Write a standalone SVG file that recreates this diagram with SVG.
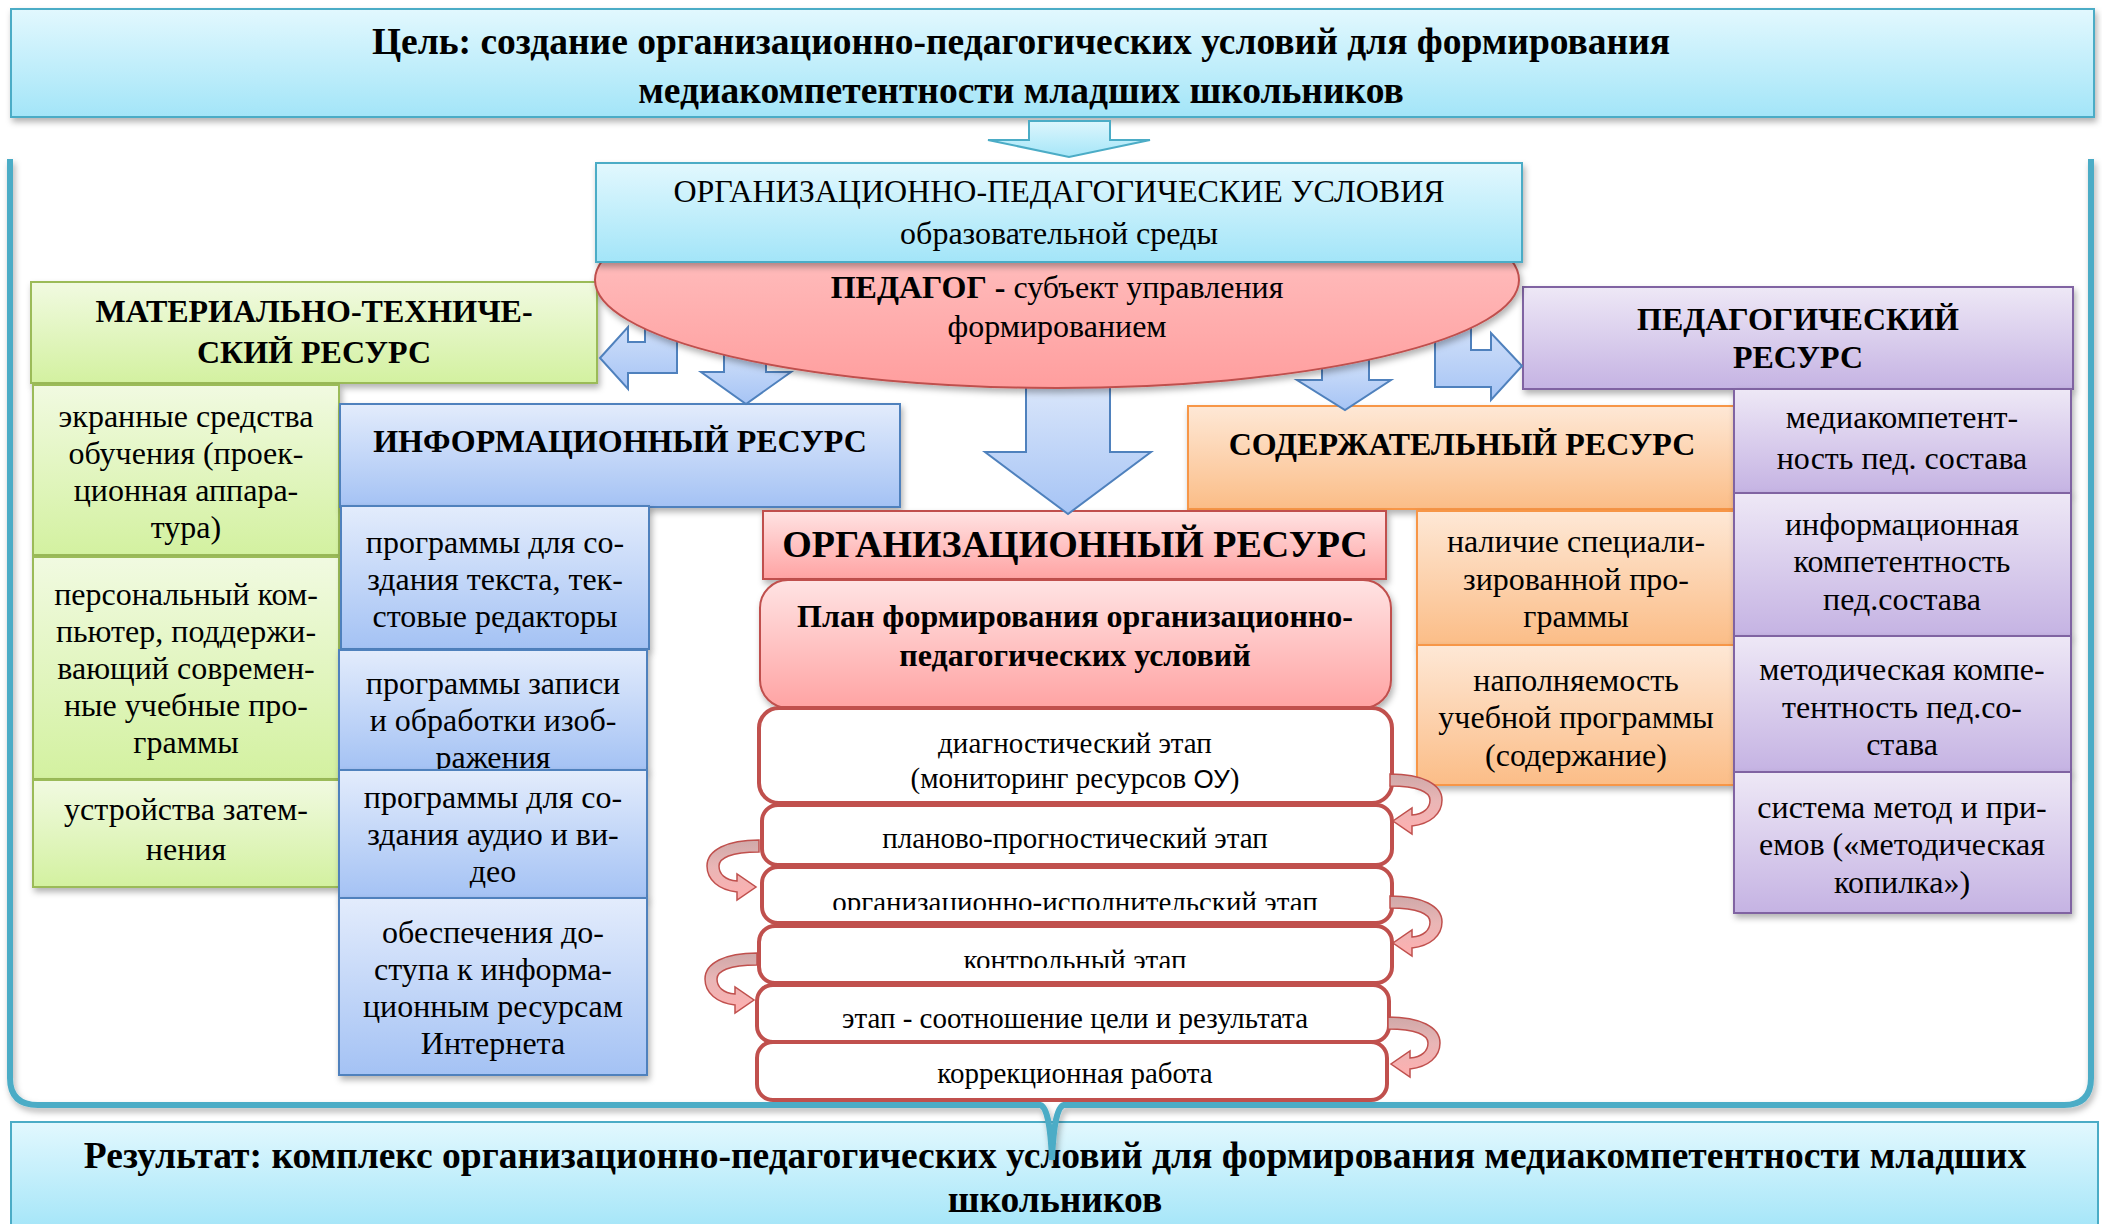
<svg xmlns="http://www.w3.org/2000/svg" width="2102" height="1224" viewBox="0 0 2102 1224">
<defs>
<linearGradient id="gCyan" x1="0" y1="0" x2="0" y2="1"><stop offset="0" stop-color="#E2F8FE"/><stop offset="1" stop-color="#A3E5F8"/></linearGradient>
<linearGradient id="gGreen" x1="0" y1="0" x2="0" y2="1"><stop offset="0" stop-color="#F1FAE1"/><stop offset="1" stop-color="#D3F1A0"/></linearGradient>
<linearGradient id="gBlue" x1="0" y1="0" x2="0" y2="1"><stop offset="0" stop-color="#E3ECFC"/><stop offset="1" stop-color="#A4C2F4"/></linearGradient>
<linearGradient id="gOrange" x1="0" y1="0" x2="0" y2="1"><stop offset="0" stop-color="#FEE8D6"/><stop offset="1" stop-color="#FBBD87"/></linearGradient>
<linearGradient id="gPurple" x1="0" y1="0" x2="0" y2="1"><stop offset="0" stop-color="#EEE8F6"/><stop offset="1" stop-color="#C5B3E3"/></linearGradient>
<linearGradient id="gRed" x1="0" y1="0" x2="0" y2="1"><stop offset="0" stop-color="#FFE3E3"/><stop offset="1" stop-color="#FFA3A3"/></linearGradient>
<linearGradient id="gPink" x1="0" y1="0" x2="0" y2="1"><stop offset="0" stop-color="#FFCFCF"/><stop offset="1" stop-color="#FF9E9E"/></linearGradient>
<linearGradient id="gArr" x1="0" y1="0" x2="0" y2="1"><stop offset="0" stop-color="#E0EAFB"/><stop offset="1" stop-color="#A6C4F5"/></linearGradient>
<linearGradient id="gArrC" x1="0" y1="0" x2="0" y2="1"><stop offset="0" stop-color="#DDF6FD"/><stop offset="1" stop-color="#A5E6F8"/></linearGradient>
<linearGradient id="gCurve" x1="0" y1="0" x2="0" y2="1"><stop offset="0" stop-color="#CFA8A8"/><stop offset="0.45" stop-color="#E9B6B6"/><stop offset="1" stop-color="#FFAFAF"/></linearGradient>
<filter id="sh" x="-5%" y="-10%" width="115%" height="135%"><feDropShadow dx="2" dy="4" stdDeviation="3" flood-color="#000" flood-opacity="0.3"/></filter>
<clipPath id="c3"><rect x="760" y="860" width="640" height="50"/></clipPath>
<clipPath id="c4"><rect x="760" y="925" width="640" height="43"/></clipPath>
<path id="cv" d="M 0 0 C 32 0 52 10 52 26 C 52 40 40 50 22 52 L 22 60 L 3 47 L 22 34 L 22 41 C 34 40 40 34 40 26 C 40 18 28 12 0 12 Z"/>
</defs>
<style>
.t{font-family:"Liberation Serif","Times New Roman",serif;fill:#000;text-anchor:middle}
.b{font-weight:bold}
.f38{font-size:38px}.f375{font-size:37.5px}.f32{font-size:32px}.f30{font-size:30px}.f29{font-size:29px}
.cy{fill:url(#gCyan);stroke:#4BACC6;stroke-width:2}
.gr{fill:url(#gGreen);stroke:#9BBB59;stroke-width:2}
.bl{fill:url(#gBlue);stroke:#4F81BD;stroke-width:2}
.or{fill:url(#gOrange);stroke:#F79646;stroke-width:2}
.pu{fill:url(#gPurple);stroke:#8064A2;stroke-width:2}
.rd{fill:url(#gRed);stroke:#C0504D;stroke-width:2}
.st{fill:#fff;stroke:#C0504D;stroke-width:4}
.ar{fill:url(#gArr);stroke:#4F81BD;stroke-width:2}
.cva{fill:url(#gCurve);stroke:#C0504D;stroke-width:1.5}
.sans{font-family:"Liberation Sans",Arial,sans-serif}
</style>
<rect width="2102" height="1224" fill="#fff"/>

<g id="goal">
<rect class="cy" x="11" y="9" width="2083" height="108" filter="url(#sh)"/>
<text class="t b f375" x="1021" y="54">Цель: создание организационно-педагогических условий для формирования</text>
<text class="t b f375" x="1021" y="103">медиакомпетентности младших школьников</text>
</g>

<g id="result">
<rect class="cy" x="11" y="1122" width="2087" height="110"/>
<text class="t b f375" x="1055" y="1168">Результат: комплекс организационно-педагогических условий для формирования медиакомпетентности младших</text>
<text class="t b f375" x="1055" y="1212">школьников</text>
</g>

<g id="frame">
<path d="M 8 159 L 2094 159" stroke="#4BACC6" stroke-width="8" fill="none" filter="url(#sh)"/>
<path d="M 10 159 L 10 1078 Q 10 1105 38 1105 L 1040 1105 Q 1050 1107 1052 1160 Q 1054 1107 1064 1105 L 2064 1105 Q 2091 1105 2091 1078 L 2091 159" stroke="#4BACC6" stroke-width="6" fill="none" filter="url(#sh)"/>
</g>

<g id="material">
<rect class="gr" x="31" y="282" width="566" height="101" filter="url(#sh)"/>
<text class="t b f32" x="314" y="322">МАТЕРИАЛЬНО-ТЕХНИЧЕ-</text>
<text class="t b f32" x="314" y="363">СКИЙ РЕСУРС</text>
<rect class="gr" x="33" y="385" width="306" height="170" filter="url(#sh)"/>
<text class="t f32" x="186" y="427">экранные средства<tspan x="186" dy="37">обучения (проек-</tspan><tspan x="186" dy="37">ционная аппара-</tspan><tspan x="186" dy="37">тура)</tspan></text>
<rect class="gr" x="33" y="557" width="306" height="222" filter="url(#sh)"/>
<text class="t f32" x="186" y="605">персональный ком-<tspan x="186" dy="37">пьютер, поддержи-</tspan><tspan x="186" dy="37">вающий современ-</tspan><tspan x="186" dy="37">ные учебные про-</tspan><tspan x="186" dy="37">граммы</tspan></text>
<rect class="gr" x="33" y="780" width="306" height="107" filter="url(#sh)"/>
<text class="t f32" x="186" y="820">устройства затем-<tspan x="186" dy="40">нения</tspan></text>
</g>

<g id="info">
<rect class="bl" x="340" y="404" width="560" height="103" filter="url(#sh)"/>
<text class="t b f32" x="620" y="452">ИНФОРМАЦИОННЫЙ РЕСУРС</text>
<rect class="bl" x="341" y="506" width="308" height="143" filter="url(#sh)"/>
<text class="t f32" x="495" y="553">программы для со-<tspan x="495" dy="37">здания текста, тек-</tspan><tspan x="495" dy="37">стовые редакторы</tspan></text>
<rect class="bl" x="339" y="650" width="308" height="120" filter="url(#sh)"/>
<text class="t f32" x="493" y="694">программы записи<tspan x="493" dy="37">и обработки изоб-</tspan><tspan x="493" dy="37">ражения</tspan></text>
<rect class="bl" x="339" y="770" width="308" height="128" filter="url(#sh)"/>
<text class="t f32" x="493" y="808">программы для со-<tspan x="493" dy="37">здания аудио и ви-</tspan><tspan x="493" dy="37">део</tspan></text>
<rect class="bl" x="339" y="898" width="308" height="177" filter="url(#sh)"/>
<text class="t f32" x="493" y="943">обеспечения до-<tspan x="493" dy="37">ступа к информа-</tspan><tspan x="493" dy="37">ционным ресурсам</tspan><tspan x="493" dy="37">Интернета</tspan></text>
</g>

<g id="content">
<rect class="or" x="1188" y="406" width="546" height="103" filter="url(#sh)"/>
<text class="t b f32" x="1462" y="455">СОДЕРЖАТЕЛЬНЫЙ РЕСУРС</text>
<rect class="or" x="1417" y="511" width="317" height="134" filter="url(#sh)"/>
<text class="t f32" x="1576" y="552">наличие специали-<tspan x="1576" dy="38">зированной про-</tspan><tspan x="1576" dy="37">граммы</tspan></text>
<rect class="or" x="1417" y="645" width="317" height="140" filter="url(#sh)"/>
<text class="t f32" x="1576" y="691">наполняемость<tspan x="1576" dy="37">учебной программы</tspan><tspan x="1576" dy="38">(содержание)</tspan></text>
</g>

<g id="pedresource">
<rect class="pu" x="1523" y="287" width="550" height="102" filter="url(#sh)"/>
<text class="t b f32" x="1798" y="330">ПЕДАГОГИЧЕСКИЙ</text>
<text class="t b f32" x="1798" y="368">РЕСУРС</text>
<rect class="pu" x="1734" y="389" width="337" height="104" filter="url(#sh)"/>
<text class="t f32" x="1902" y="428">медиакомпетент-<tspan x="1902" dy="41">ность пед. состава</tspan></text>
<rect class="pu" x="1734" y="493" width="337" height="143" filter="url(#sh)"/>
<text class="t f32" x="1902" y="535">информационная<tspan x="1902" dy="37">компетентность</tspan><tspan x="1902" dy="38">пед.состава</tspan></text>
<rect class="pu" x="1734" y="636" width="337" height="136" filter="url(#sh)"/>
<text class="t f32" x="1902" y="680">методическая компе-<tspan x="1902" dy="38">тентность пед.со-</tspan><tspan x="1902" dy="37">става</tspan></text>
<rect class="pu" x="1734" y="772" width="337" height="141" filter="url(#sh)"/>
<text class="t f32" x="1902" y="818">система метод и при-<tspan x="1902" dy="37">емов («методическая</tspan><tspan x="1902" dy="38">копилка»)</tspan></text>
</g>

<g id="organization">
<rect class="rd" x="763" y="511" width="623" height="68" filter="url(#sh)"/>
<text class="t b f38" x="1075" y="557">ОРГАНИЗАЦИОННЫЙ РЕСУРС</text>
<rect class="rd" x="760" y="580" width="631" height="128" rx="28" filter="url(#sh)"/>
<text class="t b f32" x="1075" y="627">План формирования организационно-</text>
<text class="t b f32" x="1075" y="666">педагогических условий</text>
</g>

<g id="stage1">
<rect class="st" x="759" y="708" width="633" height="95" rx="20"/>
<text class="t f29" x="1075" y="753">диагностический этап</text>
<text class="t f29" x="1075" y="788">(мониторинг ресурсов <tspan class="sans" font-size="26">ОУ</tspan>)</text>
</g>
<g id="stage2">
<rect class="st" x="762" y="805" width="630" height="60" rx="16"/>
<text class="t f29" x="1075" y="848">планово-прогностический этап</text>
</g>
<g id="stage3">
<rect class="st" x="762" y="867" width="630" height="56" rx="16"/>
<text class="t f29" x="1075" y="912" clip-path="url(#c3)">организационно-исполнительский этап</text>
</g>
<g id="stage4">
<rect class="st" x="759" y="926" width="633" height="57" rx="16"/>
<text class="t f29" x="1075" y="970" clip-path="url(#c4)">контрольный этап</text>
</g>
<g id="stage5">
<rect class="st" x="757" y="985" width="632" height="57" rx="16"/>
<text class="t f29" x="1075" y="1028">этап - соотношение цели и результата</text>
</g>
<g id="stage6">
<rect class="st" x="757" y="1042" width="630" height="58" rx="16"/>
<text class="t f29" x="1075" y="1083">коррекционная работа</text>
</g>

<g id="connectors">
<path d="M 1029 121 L 1110 121 L 1110 140 L 1150 140 L 1069 157 L 988 140 L 1029 140 Z" fill="url(#gArrC)" stroke="#4BACC6" stroke-width="2"/>
<path class="ar" d="M 600 358 L 628 327 L 628 342 L 645 342 L 645 300 L 677 300 L 677 373 L 628 373 L 628 389 Z"/>
<path class="ar" d="M 724 330 L 766 330 L 766 372 L 791 372 L 746 404 L 701 372 L 724 372 Z"/>
<path class="ar" d="M 1026 370 L 1110 370 L 1110 452 L 1151 452 L 1068 514 L 985 452 L 1026 452 Z"/>
<path class="ar" d="M 1322 340 L 1369 340 L 1369 380 L 1391 380 L 1345 410 L 1297 380 L 1322 380 Z"/>
<path class="ar" d="M 1522 366 L 1491 333 L 1491 350 L 1471 350 L 1471 300 L 1435 300 L 1435 387 L 1491 387 L 1491 400 Z"/>
<use href="#cv" class="cva" transform="translate(1390,774)"/>
<use href="#cv" class="cva" transform="translate(1390,896)"/>
<use href="#cv" class="cva" transform="translate(1388,1017)"/>
<use href="#cv" class="cva" transform="translate(759,840) scale(-1,1)"/>
<use href="#cv" class="cva" transform="translate(757,953) scale(-1,1)"/>
</g>

<g id="pedagog">
<ellipse cx="1057" cy="280" rx="462" ry="108" fill="url(#gPink)" stroke="#C0504D" stroke-width="2" filter="url(#sh)"/>
<text class="t f32" x="1057" y="298"><tspan class="b">ПЕДАГОГ -</tspan> субъект управления</text>
<text class="t f32" x="1057" y="337">формированием</text>
</g>

<g id="conditions">
<rect class="cy" x="596" y="163" width="926" height="99" filter="url(#sh)"/>
<text class="t f32" x="1059" y="202">ОРГАНИЗАЦИОННО-ПЕДАГОГИЧЕСКИЕ УСЛОВИЯ</text>
<text class="t f32" x="1059" y="244">образовательной среды</text>
</g>
</svg>
